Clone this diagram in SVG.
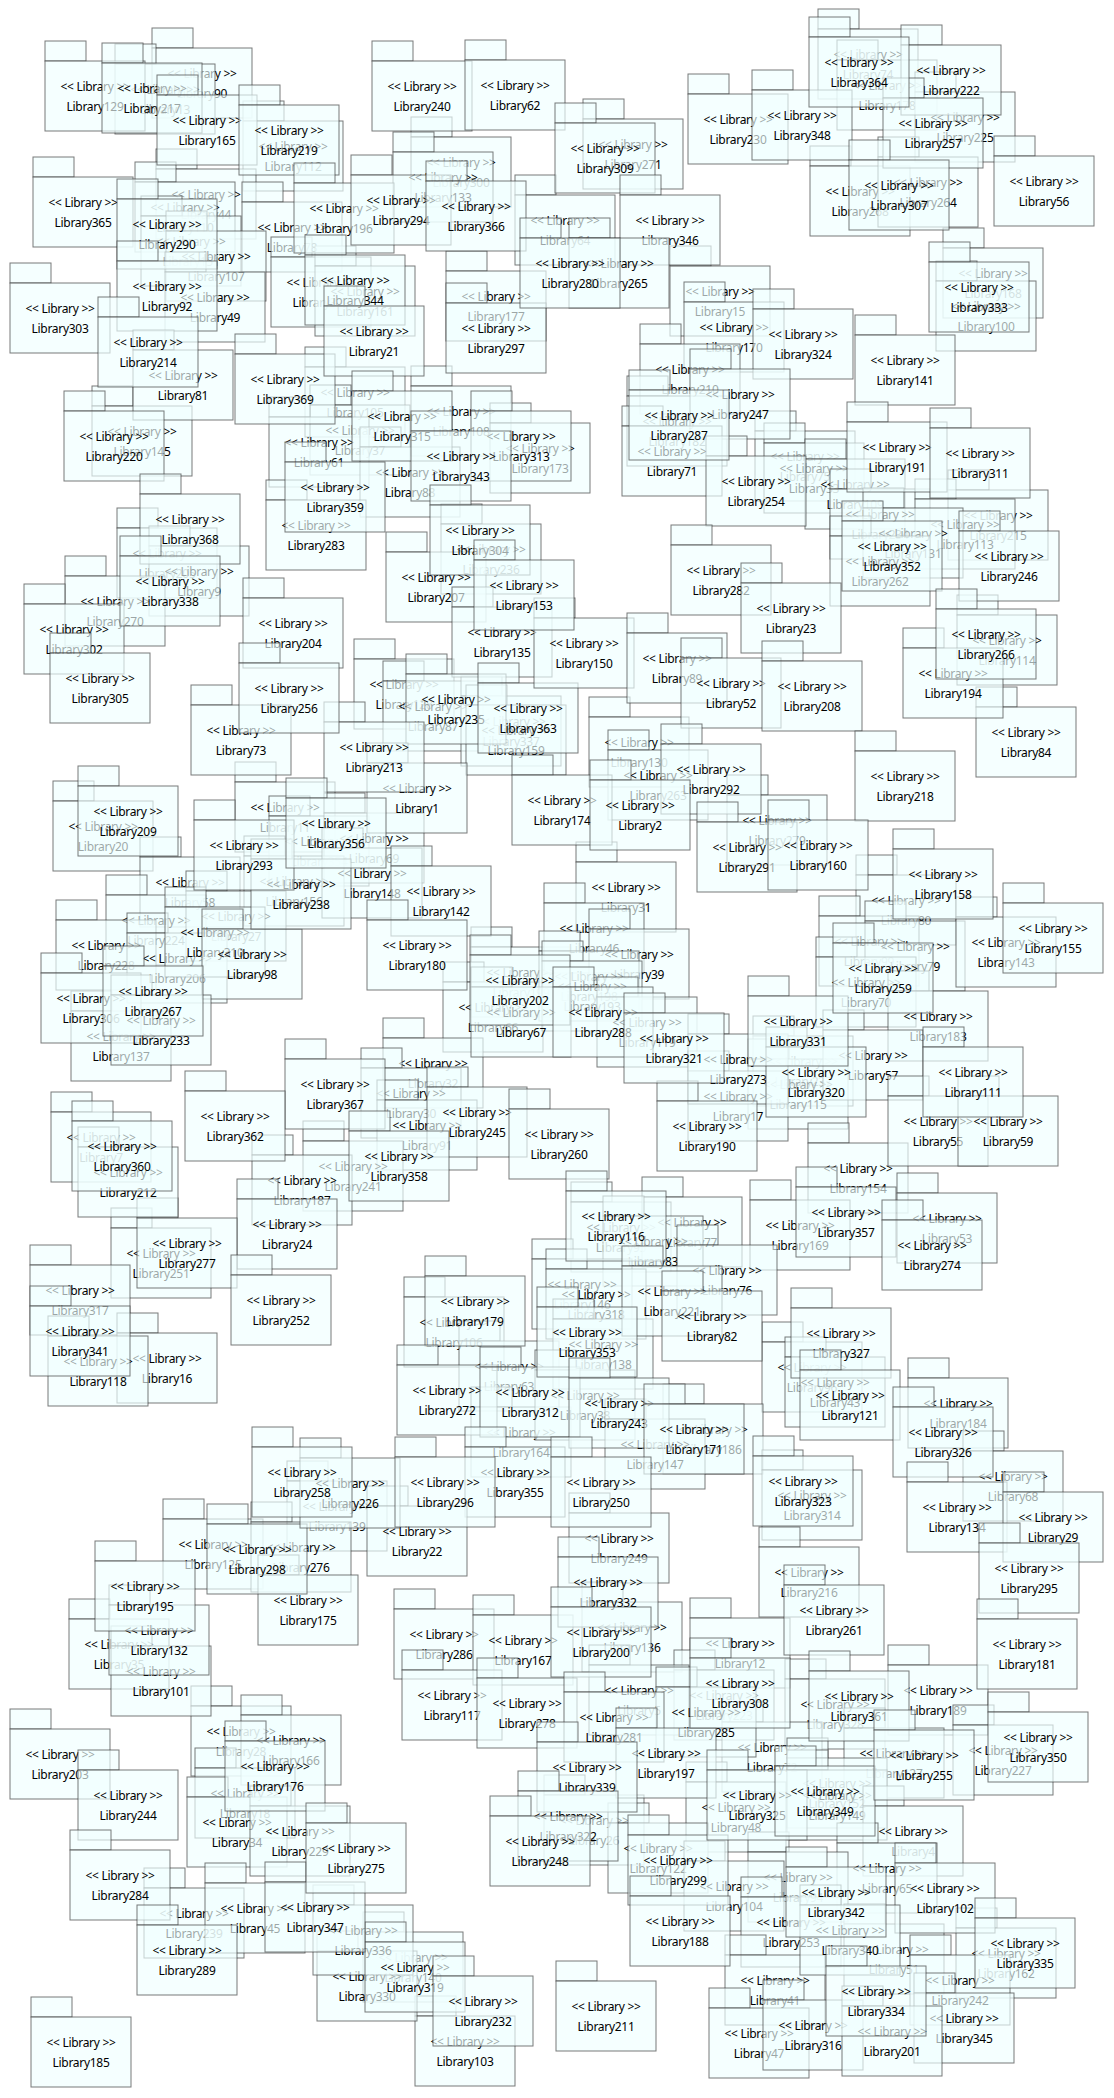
<svg xmlns="http://www.w3.org/2000/svg" width="1114" height="2098" viewBox="0 0 1114 2098">
<style>
text{font-family:"Noto Sans","Open Sans","DejaVu Sans",sans-serif;font-size:12px;letter-spacing:-0.3px;text-anchor:middle;fill:#000}
</style>
<defs>
<g id="pk">
<rect x="-50" y="-66" width="41" height="20" fill="#f0ffff" fill-opacity="0.65" stroke="#333" stroke-opacity="0.65"/>
<rect x="-50" y="-46" width="100" height="70" fill="#f0ffff" fill-opacity="0.65" stroke="#333" stroke-opacity="0.65"/>
</g>
</defs>
<rect width="1114" height="2098" fill="#fff"/>
<g id="connectors"/>
<g id="nodes">
<g id="Library90" transform="translate(202,94)"><use href="#pk"/><text y="-16">&lt;&lt; Library &gt;&gt;</text><text y="4">Library90</text></g>
<g id="Library13" transform="translate(165,110)"><use href="#pk"/><text y="-16">&lt;&lt; Library &gt;&gt;</text><text y="4">Library13</text></g>
<g id="Library112" transform="translate(293,167)"><use href="#pk"/><text y="-16">&lt;&lt; Library &gt;&gt;</text><text y="4">Library112</text></g>
<g id="Library44" transform="translate(206,215)"><use href="#pk"/><text y="-16">&lt;&lt; Library &gt;&gt;</text><text y="4">Library44</text></g>
<g id="Library78" transform="translate(292,248)"><use href="#pk"/><text y="-16">&lt;&lt; Library &gt;&gt;</text><text y="4">Library78</text></g>
<g id="Library300" transform="translate(461,183)"><use href="#pk"/><text y="-16">&lt;&lt; Library &gt;&gt;</text><text y="4">Library300</text></g>
<g id="Library133" transform="translate(443,198)"><use href="#pk"/><text y="-16">&lt;&lt; Library &gt;&gt;</text><text y="4">Library133</text></g>
<g id="Library110" transform="translate(185,228)"><use href="#pk"/><text y="-16">&lt;&lt; Library &gt;&gt;</text><text y="4">Library110</text></g>
<g id="Library151" transform="translate(191,262)"><use href="#pk"/><text y="-16">&lt;&lt; Library &gt;&gt;</text><text y="4">Library151</text></g>
<g id="Library107" transform="translate(216,277)"><use href="#pk"/><text y="-16">&lt;&lt; Library &gt;&gt;</text><text y="4">Library107</text></g>
<g id="Library49" transform="translate(215,318)"><use href="#pk"/><text y="-16">&lt;&lt; Library &gt;&gt;</text><text y="4">Library49</text></g>
<g id="Library329" transform="translate(321,303)"><use href="#pk"/><text y="-16">&lt;&lt; Library &gt;&gt;</text><text y="4">Library329</text></g>
<g id="Library161" transform="translate(365,312)"><use href="#pk"/><text y="-16">&lt;&lt; Library &gt;&gt;</text><text y="4">Library161</text></g>
<g id="Library177" transform="translate(496,317)"><use href="#pk"/><text y="-16">&lt;&lt; Library &gt;&gt;</text><text y="4">Library177</text></g>
<g id="Library105" transform="translate(355,413)"><use href="#pk"/><text y="-16">&lt;&lt; Library &gt;&gt;</text><text y="4">Library105</text></g>
<g id="Library37" transform="translate(360,451)"><use href="#pk"/><text y="-16">&lt;&lt; Library &gt;&gt;</text><text y="4">Library37</text></g>
<g id="Library61" transform="translate(319,463)"><use href="#pk"/><text y="-16">&lt;&lt; Library &gt;&gt;</text><text y="4">Library61</text></g>
<g id="Library108" transform="translate(461,432)"><use href="#pk"/><text y="-16">&lt;&lt; Library &gt;&gt;</text><text y="4">Library108</text></g>
<g id="Library88" transform="translate(410,493)"><use href="#pk"/><text y="-16">&lt;&lt; Library &gt;&gt;</text><text y="4">Library88</text></g>
<g id="Library145" transform="translate(142,452)"><use href="#pk"/><text y="-16">&lt;&lt; Library &gt;&gt;</text><text y="4">Library145</text></g>
<g id="Library173" transform="translate(540,469)"><use href="#pk"/><text y="-16">&lt;&lt; Library &gt;&gt;</text><text y="4">Library173</text></g>
<g id="Library271" transform="translate(633,165)"><use href="#pk"/><text y="-16">&lt;&lt; Library &gt;&gt;</text><text y="4">Library271</text></g>
<g id="Library74" transform="translate(868,75)"><use href="#pk"/><text y="-16">&lt;&lt; Library &gt;&gt;</text><text y="4">Library74</text></g>
<g id="Library178" transform="translate(887,106)"><use href="#pk"/><text y="-16">&lt;&lt; Library &gt;&gt;</text><text y="4">Library178</text></g>
<g id="Library225" transform="translate(965,138)"><use href="#pk"/><text y="-16">&lt;&lt; Library &gt;&gt;</text><text y="4">Library225</text></g>
<g id="Library268" transform="translate(860,212)"><use href="#pk"/><text y="-16">&lt;&lt; Library &gt;&gt;</text><text y="4">Library268</text></g>
<g id="Library264" transform="translate(928,203)"><use href="#pk"/><text y="-16">&lt;&lt; Library &gt;&gt;</text><text y="4">Library264</text></g>
<g id="Library64" transform="translate(565,241)"><use href="#pk"/><text y="-16">&lt;&lt; Library &gt;&gt;</text><text y="4">Library64</text></g>
<g id="Library15" transform="translate(720,312)"><use href="#pk"/><text y="-16">&lt;&lt; Library &gt;&gt;</text><text y="4">Library15</text></g>
<g id="Library170" transform="translate(734,348)"><use href="#pk"/><text y="-16">&lt;&lt; Library &gt;&gt;</text><text y="4">Library170</text></g>
<g id="Library168" transform="translate(993,294)"><use href="#pk"/><text y="-16">&lt;&lt; Library &gt;&gt;</text><text y="4">Library168</text></g>
<g id="Library100" transform="translate(986,327)"><use href="#pk"/><text y="-16">&lt;&lt; Library &gt;&gt;</text><text y="4">Library100</text></g>
<g id="Library210" transform="translate(690,390)"><use href="#pk"/><text y="-16">&lt;&lt; Library &gt;&gt;</text><text y="4">Library210</text></g>
<g id="Library182" transform="translate(677,442)"><use href="#pk"/><text y="-16">&lt;&lt; Library &gt;&gt;</text><text y="4">Library182</text></g>
<g id="Library75" transform="translate(805,477)"><use href="#pk"/><text y="-16">&lt;&lt; Library &gt;&gt;</text><text y="4">Library75</text></g>
<g id="Library33" transform="translate(814,489)"><use href="#pk"/><text y="-16">&lt;&lt; Library &gt;&gt;</text><text y="4">Library33</text></g>
<g id="Library109" transform="translate(855,505)"><use href="#pk"/><text y="-16">&lt;&lt; Library &gt;&gt;</text><text y="4">Library109</text></g>
<g id="Library236" transform="translate(491,570)"><use href="#pk"/><text y="-16">&lt;&lt; Library &gt;&gt;</text><text y="4">Library236</text></g>
<g id="Library205" transform="translate(167,574)"><use href="#pk"/><text y="-16">&lt;&lt; Library &gt;&gt;</text><text y="4">Library205</text></g>
<g id="Library9" transform="translate(199,592)"><use href="#pk"/><text y="-16">&lt;&lt; Library &gt;&gt;</text><text y="4">Library9</text></g>
<g id="Library270" transform="translate(115,622)"><use href="#pk"/><text y="-16">&lt;&lt; Library &gt;&gt;</text><text y="4">Library270</text></g>
<g id="Library302" transform="translate(74,650)"><use href="#pk"/><text y="-16">&lt;&lt; Library &gt;&gt;</text><text y="4">Library302</text></g>
<g id="Library128" transform="translate(404,705)"><use href="#pk"/><text y="-16">&lt;&lt; Library &gt;&gt;</text><text y="4">Library128</text></g>
<g id="Library87" transform="translate(433,727)"><use href="#pk"/><text y="-16">&lt;&lt; Library &gt;&gt;</text><text y="4">Library87</text></g>
<g id="Library337" transform="translate(511,742)"><use href="#pk"/><text y="-16">&lt;&lt; Library &gt;&gt;</text><text y="4">Library337</text></g>
<g id="Library159" transform="translate(516,751)"><use href="#pk"/><text y="-16">&lt;&lt; Library &gt;&gt;</text><text y="4">Library159</text></g>
<g id="Library20" transform="translate(103,847)"><use href="#pk"/><text y="-16">&lt;&lt; Library &gt;&gt;</text><text y="4">Library20</text></g>
<g id="Library11" transform="translate(285,828)"><use href="#pk"/><text y="-16">&lt;&lt; Library &gt;&gt;</text><text y="4">Library11</text></g>
<g id="Library354" transform="translate(319,862)"><use href="#pk"/><text y="-16">&lt;&lt; Library &gt;&gt;</text><text y="4">Library354</text></g>
<g id="Library69" transform="translate(374,859)"><use href="#pk"/><text y="-16">&lt;&lt; Library &gt;&gt;</text><text y="4">Library69</text></g>
<g id="Library156" transform="translate(294,902)"><use href="#pk"/><text y="-16">&lt;&lt; Library &gt;&gt;</text><text y="4">Library156</text></g>
<g id="Library58" transform="translate(190,903)"><use href="#pk"/><text y="-16">&lt;&lt; Library &gt;&gt;</text><text y="4">Library58</text></g>
<g id="Library224" transform="translate(156,941)"><use href="#pk"/><text y="-16">&lt;&lt; Library &gt;&gt;</text><text y="4">Library224</text></g>
<g id="Library27" transform="translate(236,937)"><use href="#pk"/><text y="-16">&lt;&lt; Library &gt;&gt;</text><text y="4">Library27</text></g>
<g id="Library228" transform="translate(106,966)"><use href="#pk"/><text y="-16">&lt;&lt; Library &gt;&gt;</text><text y="4">Library228</text></g>
<g id="Library206" transform="translate(177,979)"><use href="#pk"/><text y="-16">&lt;&lt; Library &gt;&gt;</text><text y="4">Library206</text></g>
<g id="Library199" transform="translate(521,993)"><use href="#pk"/><text y="-16">&lt;&lt; Library &gt;&gt;</text><text y="4">Library199</text></g>
<g id="Library66" transform="translate(493,1028)"><use href="#pk"/><text y="-16">&lt;&lt; Library &gt;&gt;</text><text y="4">Library66</text></g>
<g id="Library234" transform="translate(880,535)"><use href="#pk"/><text y="-16">&lt;&lt; Library &gt;&gt;</text><text y="4">Library234</text></g>
<g id="Library215" transform="translate(998,536)"><use href="#pk"/><text y="-16">&lt;&lt; Library &gt;&gt;</text><text y="4">Library215</text></g>
<g id="Library113" transform="translate(965,545)"><use href="#pk"/><text y="-16">&lt;&lt; Library &gt;&gt;</text><text y="4">Library113</text></g>
<g id="Library131" transform="translate(913,554)"><use href="#pk"/><text y="-16">&lt;&lt; Library &gt;&gt;</text><text y="4">Library131</text></g>
<g id="Library262" transform="translate(880,582)"><use href="#pk"/><text y="-16">&lt;&lt; Library &gt;&gt;</text><text y="4">Library262</text></g>
<g id="Library114" transform="translate(1007,661)"><use href="#pk"/><text y="-16">&lt;&lt; Library &gt;&gt;</text><text y="4">Library114</text></g>
<g id="Library130" transform="translate(639,763)"><use href="#pk"/><text y="-16">&lt;&lt; Library &gt;&gt;</text><text y="4">Library130</text></g>
<g id="Library263" transform="translate(658,796)"><use href="#pk"/><text y="-16">&lt;&lt; Library &gt;&gt;</text><text y="4">Library263</text></g>
<g id="Library279" transform="translate(777,841)"><use href="#pk"/><text y="-16">&lt;&lt; Library &gt;&gt;</text><text y="4">Library279</text></g>
<g id="Library31" transform="translate(626,908)"><use href="#pk"/><text y="-16">&lt;&lt; Library &gt;&gt;</text><text y="4">Library31</text></g>
<g id="Library80" transform="translate(906,921)"><use href="#pk"/><text y="-16">&lt;&lt; Library &gt;&gt;</text><text y="4">Library80</text></g>
<g id="Library99" transform="translate(869,962)"><use href="#pk"/><text y="-16">&lt;&lt; Library &gt;&gt;</text><text y="4">Library99</text></g>
<g id="Library79" transform="translate(915,967)"><use href="#pk"/><text y="-16">&lt;&lt; Library &gt;&gt;</text><text y="4">Library79</text></g>
<g id="Library70" transform="translate(866,1003)"><use href="#pk"/><text y="-16">&lt;&lt; Library &gt;&gt;</text><text y="4">Library70</text></g>
<g id="Library143" transform="translate(1006,963)"><use href="#pk"/><text y="-16">&lt;&lt; Library &gt;&gt;</text><text y="4">Library143</text></g>
<g id="Library46" transform="translate(594,949)"><use href="#pk"/><text y="-16">&lt;&lt; Library &gt;&gt;</text><text y="4">Library46</text></g>
<g id="Library39" transform="translate(639,975)"><use href="#pk"/><text y="-16">&lt;&lt; Library &gt;&gt;</text><text y="4">Library39</text></g>
<g id="Library198" transform="translate(589,997)"><use href="#pk"/><text y="-16">&lt;&lt; Library &gt;&gt;</text><text y="4">Library198</text></g>
<g id="Library193" transform="translate(592,1007)"><use href="#pk"/><text y="-16">&lt;&lt; Library &gt;&gt;</text><text y="4">Library193</text></g>
<g id="Library119" transform="translate(647,1043)"><use href="#pk"/><text y="-16">&lt;&lt; Library &gt;&gt;</text><text y="4">Library119</text></g>
<g id="Library137" transform="translate(121,1057)"><use href="#pk"/><text y="-16">&lt;&lt; Library &gt;&gt;</text><text y="4">Library137</text></g>
<g id="Library32" transform="translate(433,1084)"><use href="#pk"/><text y="-16">&lt;&lt; Library &gt;&gt;</text><text y="4">Library32</text></g>
<g id="Library30" transform="translate(411,1114)"><use href="#pk"/><text y="-16">&lt;&lt; Library &gt;&gt;</text><text y="4">Library30</text></g>
<g id="Library91" transform="translate(427,1146)"><use href="#pk"/><text y="-16">&lt;&lt; Library &gt;&gt;</text><text y="4">Library91</text></g>
<g id="Library7" transform="translate(101,1158)"><use href="#pk"/><text y="-16">&lt;&lt; Library &gt;&gt;</text><text y="4">Library7</text></g>
<g id="Library241" transform="translate(353,1187)"><use href="#pk"/><text y="-16">&lt;&lt; Library &gt;&gt;</text><text y="4">Library241</text></g>
<g id="Library187" transform="translate(302,1201)"><use href="#pk"/><text y="-16">&lt;&lt; Library &gt;&gt;</text><text y="4">Library187</text></g>
<g id="Library251" transform="translate(161,1274)"><use href="#pk"/><text y="-16">&lt;&lt; Library &gt;&gt;</text><text y="4">Library251</text></g>
<g id="Library317" transform="translate(80,1311)"><use href="#pk"/><text y="-16">&lt;&lt; Library &gt;&gt;</text><text y="4">Library317</text></g>
<g id="Library106" transform="translate(454,1343)"><use href="#pk"/><text y="-16">&lt;&lt; Library &gt;&gt;</text><text y="4">Library106</text></g>
<g id="Library63" transform="translate(509,1387)"><use href="#pk"/><text y="-16">&lt;&lt; Library &gt;&gt;</text><text y="4">Library63</text></g>
<g id="Library164" transform="translate(521,1453)"><use href="#pk"/><text y="-16">&lt;&lt; Library &gt;&gt;</text><text y="4">Library164</text></g>
<g id="Library139" transform="translate(337,1527)"><use href="#pk"/><text y="-16">&lt;&lt; Library &gt;&gt;</text><text y="4">Library139</text></g>
<g id="Library125" transform="translate(213,1565)"><use href="#pk"/><text y="-16">&lt;&lt; Library &gt;&gt;</text><text y="4">Library125</text></g>
<g id="Library276" transform="translate(301,1568)"><use href="#pk"/><text y="-16">&lt;&lt; Library &gt;&gt;</text><text y="4">Library276</text></g>
<g id="Library237" transform="translate(803,1082)"><use href="#pk"/><text y="-16">&lt;&lt; Library &gt;&gt;</text><text y="4">Library237</text></g>
<g id="Library115" transform="translate(798,1105)"><use href="#pk"/><text y="-16">&lt;&lt; Library &gt;&gt;</text><text y="4">Library115</text></g>
<g id="Library17" transform="translate(738,1117)"><use href="#pk"/><text y="-16">&lt;&lt; Library &gt;&gt;</text><text y="4">Library17</text></g>
<g id="Library154" transform="translate(858,1189)"><use href="#pk"/><text y="-16">&lt;&lt; Library &gt;&gt;</text><text y="4">Library154</text></g>
<g id="Library169" transform="translate(800,1246)"><use href="#pk"/><text y="-16">&lt;&lt; Library &gt;&gt;</text><text y="4">Library169</text></g>
<g id="Library53" transform="translate(947,1239)"><use href="#pk"/><text y="-16">&lt;&lt; Library &gt;&gt;</text><text y="4">Library53</text></g>
<g id="Library95" transform="translate(621,1248)"><use href="#pk"/><text y="-16">&lt;&lt; Library &gt;&gt;</text><text y="4">Library95</text></g>
<g id="Library77" transform="translate(692,1243)"><use href="#pk"/><text y="-16">&lt;&lt; Library &gt;&gt;</text><text y="4">Library77</text></g>
<g id="Library83" transform="translate(653,1262)"><use href="#pk"/><text y="-16">&lt;&lt; Library &gt;&gt;</text><text y="4">Library83</text></g>
<g id="Library76" transform="translate(727,1291)"><use href="#pk"/><text y="-16">&lt;&lt; Library &gt;&gt;</text><text y="4">Library76</text></g>
<g id="Library146" transform="translate(582,1305)"><use href="#pk"/><text y="-16">&lt;&lt; Library &gt;&gt;</text><text y="4">Library146</text></g>
<g id="Library318" transform="translate(596,1315)"><use href="#pk"/><text y="-16">&lt;&lt; Library &gt;&gt;</text><text y="4">Library318</text></g>
<g id="Library138" transform="translate(603,1365)"><use href="#pk"/><text y="-16">&lt;&lt; Library &gt;&gt;</text><text y="4">Library138</text></g>
<g id="Library96" transform="translate(812,1388)"><use href="#pk"/><text y="-16">&lt;&lt; Library &gt;&gt;</text><text y="4">Library96</text></g>
<g id="Library43" transform="translate(835,1403)"><use href="#pk"/><text y="-16">&lt;&lt; Library &gt;&gt;</text><text y="4">Library43</text></g>
<g id="Library184" transform="translate(958,1424)"><use href="#pk"/><text y="-16">&lt;&lt; Library &gt;&gt;</text><text y="4">Library184</text></g>
<g id="Library38" transform="translate(585,1416)"><use href="#pk"/><text y="-16">&lt;&lt; Library &gt;&gt;</text><text y="4">Library38</text></g>
<g id="Library186" transform="translate(713,1450)"><use href="#pk"/><text y="-16">&lt;&lt; Library &gt;&gt;</text><text y="4">Library186</text></g>
<g id="Library147" transform="translate(655,1465)"><use href="#pk"/><text y="-16">&lt;&lt; Library &gt;&gt;</text><text y="4">Library147</text></g>
<g id="Library314" transform="translate(812,1516)"><use href="#pk"/><text y="-16">&lt;&lt; Library &gt;&gt;</text><text y="4">Library314</text></g>
<g id="Library68" transform="translate(1013,1497)"><use href="#pk"/><text y="-16">&lt;&lt; Library &gt;&gt;</text><text y="4">Library68</text></g>
<g id="Library249" transform="translate(619,1559)"><use href="#pk"/><text y="-16">&lt;&lt; Library &gt;&gt;</text><text y="4">Library249</text></g>
<g id="Library35" transform="translate(119,1665)"><use href="#pk"/><text y="-16">&lt;&lt; Library &gt;&gt;</text><text y="4">Library35</text></g>
<g id="Library28" transform="translate(241,1752)"><use href="#pk"/><text y="-16">&lt;&lt; Library &gt;&gt;</text><text y="4">Library28</text></g>
<g id="Library166" transform="translate(291,1761)"><use href="#pk"/><text y="-16">&lt;&lt; Library &gt;&gt;</text><text y="4">Library166</text></g>
<g id="Library18" transform="translate(245,1814)"><use href="#pk"/><text y="-16">&lt;&lt; Library &gt;&gt;</text><text y="4">Library18</text></g>
<g id="Library34" transform="translate(237,1843)"><use href="#pk"/><text y="-16">&lt;&lt; Library &gt;&gt;</text><text y="4">Library34</text></g>
<g id="Library229" transform="translate(300,1852)"><use href="#pk"/><text y="-16">&lt;&lt; Library &gt;&gt;</text><text y="4">Library229</text></g>
<g id="Library239" transform="translate(194,1934)"><use href="#pk"/><text y="-16">&lt;&lt; Library &gt;&gt;</text><text y="4">Library239</text></g>
<g id="Library45" transform="translate(255,1929)"><use href="#pk"/><text y="-16">&lt;&lt; Library &gt;&gt;</text><text y="4">Library45</text></g>
<g id="Library140" transform="translate(413,1978)"><use href="#pk"/><text y="-16">&lt;&lt; Library &gt;&gt;</text><text y="4">Library140</text></g>
<g id="Library216" transform="translate(809,1593)"><use href="#pk"/><text y="-16">&lt;&lt; Library &gt;&gt;</text><text y="4">Library216</text></g>
<g id="Library136" transform="translate(632,1648)"><use href="#pk"/><text y="-16">&lt;&lt; Library &gt;&gt;</text><text y="4">Library136</text></g>
<g id="Library12" transform="translate(740,1664)"><use href="#pk"/><text y="-16">&lt;&lt; Library &gt;&gt;</text><text y="4">Library12</text></g>
<g id="Library223" transform="translate(724,1716)"><use href="#pk"/><text y="-16">&lt;&lt; Library &gt;&gt;</text><text y="4">Library223</text></g>
<g id="Library5" transform="translate(639,1711)"><use href="#pk"/><text y="-16">&lt;&lt; Library &gt;&gt;</text><text y="4">Library5</text></g>
<g id="Library328" transform="translate(835,1725)"><use href="#pk"/><text y="-16">&lt;&lt; Library &gt;&gt;</text><text y="4">Library328</text></g>
<g id="Library189" transform="translate(938,1711)"><use href="#pk"/><text y="-16">&lt;&lt; Library &gt;&gt;</text><text y="4">Library189</text></g>
<g id="Library227" transform="translate(1003,1771)"><use href="#pk"/><text y="-16">&lt;&lt; Library &gt;&gt;</text><text y="4">Library227</text></g>
<g id="Library127" transform="translate(894,1774)"><use href="#pk"/><text y="-16">&lt;&lt; Library &gt;&gt;</text><text y="4">Library127</text></g>
<g id="Library72" transform="translate(772,1768)"><use href="#pk"/><text y="-16">&lt;&lt; Library &gt;&gt;</text><text y="4">Library72</text></g>
<g id="Library152" transform="translate(837,1804)"><use href="#pk"/><text y="-16">&lt;&lt; Library &gt;&gt;</text><text y="4">Library152</text></g>
<g id="Library149" transform="translate(837,1816)"><use href="#pk"/><text y="-16">&lt;&lt; Library &gt;&gt;</text><text y="4">Library149</text></g>
<g id="Library48" transform="translate(736,1828)"><use href="#pk"/><text y="-16">&lt;&lt; Library &gt;&gt;</text><text y="4">Library48</text></g>
<g id="Library26" transform="translate(594,1841)"><use href="#pk"/><text y="-16">&lt;&lt; Library &gt;&gt;</text><text y="4">Library26</text></g>
<g id="Library122" transform="translate(658,1869)"><use href="#pk"/><text y="-16">&lt;&lt; Library &gt;&gt;</text><text y="4">Library122</text></g>
<g id="Library4" transform="translate(913,1852)"><use href="#pk"/><text y="-16">&lt;&lt; Library &gt;&gt;</text><text y="4">Library4</text></g>
<g id="Library65" transform="translate(887,1889)"><use href="#pk"/><text y="-16">&lt;&lt; Library &gt;&gt;</text><text y="4">Library65</text></g>
<g id="Library94" transform="translate(798,1898)"><use href="#pk"/><text y="-16">&lt;&lt; Library &gt;&gt;</text><text y="4">Library94</text></g>
<g id="Library104" transform="translate(734,1907)"><use href="#pk"/><text y="-16">&lt;&lt; Library &gt;&gt;</text><text y="4">Library104</text></g>
<g id="Library253" transform="translate(791,1943)"><use href="#pk"/><text y="-16">&lt;&lt; Library &gt;&gt;</text><text y="4">Library253</text></g>
<g id="Library51" transform="translate(894,1970)"><use href="#pk"/><text y="-16">&lt;&lt; Library &gt;&gt;</text><text y="4">Library51</text></g>
<g id="Library162" transform="translate(1006,1974)"><use href="#pk"/><text y="-16">&lt;&lt; Library &gt;&gt;</text><text y="4">Library162</text></g>
<g id="Library41" transform="translate(775,2001)"><use href="#pk"/><text y="-16">&lt;&lt; Library &gt;&gt;</text><text y="4">Library41</text></g>
<g id="Library242" transform="translate(960,2001)"><use href="#pk"/><text y="-16">&lt;&lt; Library &gt;&gt;</text><text y="4">Library242</text></g>
<g id="Library129" transform="translate(95,107)"><use href="#pk"/><text y="-16">&lt;&lt; Library &gt;&gt;</text><text y="4">Library129</text></g>
<g id="Library217" transform="translate(152,109)"><use href="#pk"/><text y="-16">&lt;&lt; Library &gt;&gt;</text><text y="4">Library217</text></g>
<g id="Library165" transform="translate(207,141)"><use href="#pk"/><text y="-16">&lt;&lt; Library &gt;&gt;</text><text y="4">Library165</text></g>
<g id="Library219" transform="translate(289,151)"><use href="#pk"/><text y="-16">&lt;&lt; Library &gt;&gt;</text><text y="4">Library219</text></g>
<g id="Library240" transform="translate(422,107)"><use href="#pk"/><text y="-16">&lt;&lt; Library &gt;&gt;</text><text y="4">Library240</text></g>
<g id="Library62" transform="translate(515,106)"><use href="#pk"/><text y="-16">&lt;&lt; Library &gt;&gt;</text><text y="4">Library62</text></g>
<g id="Library365" transform="translate(83,223)"><use href="#pk"/><text y="-16">&lt;&lt; Library &gt;&gt;</text><text y="4">Library365</text></g>
<g id="Library290" transform="translate(167,245)"><use href="#pk"/><text y="-16">&lt;&lt; Library &gt;&gt;</text><text y="4">Library290</text></g>
<g id="Library196" transform="translate(344,229)"><use href="#pk"/><text y="-16">&lt;&lt; Library &gt;&gt;</text><text y="4">Library196</text></g>
<g id="Library294" transform="translate(401,221)"><use href="#pk"/><text y="-16">&lt;&lt; Library &gt;&gt;</text><text y="4">Library294</text></g>
<g id="Library366" transform="translate(476,227)"><use href="#pk"/><text y="-16">&lt;&lt; Library &gt;&gt;</text><text y="4">Library366</text></g>
<g id="Library92" transform="translate(167,307)"><use href="#pk"/><text y="-16">&lt;&lt; Library &gt;&gt;</text><text y="4">Library92</text></g>
<g id="Library303" transform="translate(60,329)"><use href="#pk"/><text y="-16">&lt;&lt; Library &gt;&gt;</text><text y="4">Library303</text></g>
<g id="Library81" transform="translate(183,396)"><use href="#pk"/><text y="-16">&lt;&lt; Library &gt;&gt;</text><text y="4">Library81</text></g>
<g id="Library369" transform="translate(285,400)"><use href="#pk"/><text y="-16">&lt;&lt; Library &gt;&gt;</text><text y="4">Library369</text></g>
<g id="Library344" transform="translate(355,301)"><use href="#pk"/><text y="-16">&lt;&lt; Library &gt;&gt;</text><text y="4">Library344</text></g>
<g id="Library21" transform="translate(374,352)"><use href="#pk"/><text y="-16">&lt;&lt; Library &gt;&gt;</text><text y="4">Library21</text></g>
<g id="Library297" transform="translate(496,349)"><use href="#pk"/><text y="-16">&lt;&lt; Library &gt;&gt;</text><text y="4">Library297</text></g>
<g id="Library315" transform="translate(402,437)"><use href="#pk"/><text y="-16">&lt;&lt; Library &gt;&gt;</text><text y="4">Library315</text></g>
<g id="Library313" transform="translate(521,457)"><use href="#pk"/><text y="-16">&lt;&lt; Library &gt;&gt;</text><text y="4">Library313</text></g>
<g id="Library343" transform="translate(461,477)"><use href="#pk"/><text y="-16">&lt;&lt; Library &gt;&gt;</text><text y="4">Library343</text></g>
<g id="Library220" transform="translate(114,457)"><use href="#pk"/><text y="-16">&lt;&lt; Library &gt;&gt;</text><text y="4">Library220</text></g>
<g id="Library309" transform="translate(605,169)"><use href="#pk"/><text y="-16">&lt;&lt; Library &gt;&gt;</text><text y="4">Library309</text></g>
<g id="Library230" transform="translate(738,140)"><use href="#pk"/><text y="-16">&lt;&lt; Library &gt;&gt;</text><text y="4">Library230</text></g>
<g id="Library348" transform="translate(802,136)"><use href="#pk"/><text y="-16">&lt;&lt; Library &gt;&gt;</text><text y="4">Library348</text></g>
<g id="Library222" transform="translate(951,91)"><use href="#pk"/><text y="-16">&lt;&lt; Library &gt;&gt;</text><text y="4">Library222</text></g>
<g id="Library257" transform="translate(933,144)"><use href="#pk"/><text y="-16">&lt;&lt; Library &gt;&gt;</text><text y="4">Library257</text></g>
<g id="Library307" transform="translate(899,206)"><use href="#pk"/><text y="-16">&lt;&lt; Library &gt;&gt;</text><text y="4">Library307</text></g>
<g id="Library56" transform="translate(1044,202)"><use href="#pk"/><text y="-16">&lt;&lt; Library &gt;&gt;</text><text y="4">Library56</text></g>
<g id="Library346" transform="translate(670,241)"><use href="#pk"/><text y="-16">&lt;&lt; Library &gt;&gt;</text><text y="4">Library346</text></g>
<g id="Library265" transform="translate(619,284)"><use href="#pk"/><text y="-16">&lt;&lt; Library &gt;&gt;</text><text y="4">Library265</text></g>
<g id="Library324" transform="translate(803,355)"><use href="#pk"/><text y="-16">&lt;&lt; Library &gt;&gt;</text><text y="4">Library324</text></g>
<g id="Library141" transform="translate(905,381)"><use href="#pk"/><text y="-16">&lt;&lt; Library &gt;&gt;</text><text y="4">Library141</text></g>
<g id="Library333" transform="translate(979,308)"><use href="#pk"/><text y="-16">&lt;&lt; Library &gt;&gt;</text><text y="4">Library333</text></g>
<g id="Library247" transform="translate(740,415)"><use href="#pk"/><text y="-16">&lt;&lt; Library &gt;&gt;</text><text y="4">Library247</text></g>
<g id="Library71" transform="translate(672,472)"><use href="#pk"/><text y="-16">&lt;&lt; Library &gt;&gt;</text><text y="4">Library71</text></g>
<g id="Library254" transform="translate(756,502)"><use href="#pk"/><text y="-16">&lt;&lt; Library &gt;&gt;</text><text y="4">Library254</text></g>
<g id="Library191" transform="translate(897,468)"><use href="#pk"/><text y="-16">&lt;&lt; Library &gt;&gt;</text><text y="4">Library191</text></g>
<g id="Library311" transform="translate(980,474)"><use href="#pk"/><text y="-16">&lt;&lt; Library &gt;&gt;</text><text y="4">Library311</text></g>
<g id="Library368" transform="translate(190,540)"><use href="#pk"/><text y="-16">&lt;&lt; Library &gt;&gt;</text><text y="4">Library368</text></g>
<g id="Library283" transform="translate(316,546)"><use href="#pk"/><text y="-16">&lt;&lt; Library &gt;&gt;</text><text y="4">Library283</text></g>
<g id="Library207" transform="translate(436,598)"><use href="#pk"/><text y="-16">&lt;&lt; Library &gt;&gt;</text><text y="4">Library207</text></g>
<g id="Library338" transform="translate(170,602)"><use href="#pk"/><text y="-16">&lt;&lt; Library &gt;&gt;</text><text y="4">Library338</text></g>
<g id="Library305" transform="translate(100,699)"><use href="#pk"/><text y="-16">&lt;&lt; Library &gt;&gt;</text><text y="4">Library305</text></g>
<g id="Library204" transform="translate(293,644)"><use href="#pk"/><text y="-16">&lt;&lt; Library &gt;&gt;</text><text y="4">Library204</text></g>
<g id="Library135" transform="translate(502,653)"><use href="#pk"/><text y="-16">&lt;&lt; Library &gt;&gt;</text><text y="4">Library135</text></g>
<g id="Library73" transform="translate(241,751)"><use href="#pk"/><text y="-16">&lt;&lt; Library &gt;&gt;</text><text y="4">Library73</text></g>
<g id="Library235" transform="translate(456,720)"><use href="#pk"/><text y="-16">&lt;&lt; Library &gt;&gt;</text><text y="4">Library235</text></g>
<g id="Library363" transform="translate(528,729)"><use href="#pk"/><text y="-16">&lt;&lt; Library &gt;&gt;</text><text y="4">Library363</text></g>
<g id="Library1" transform="translate(417,809)"><use href="#pk"/><text y="-16">&lt;&lt; Library &gt;&gt;</text><text y="4">Library1</text></g>
<g id="Library174" transform="translate(562,821)"><use href="#pk"/><text y="-16">&lt;&lt; Library &gt;&gt;</text><text y="4">Library174</text></g>
<g id="Library209" transform="translate(128,832)"><use href="#pk"/><text y="-16">&lt;&lt; Library &gt;&gt;</text><text y="4">Library209</text></g>
<g id="Library148" transform="translate(372,894)"><use href="#pk"/><text y="-16">&lt;&lt; Library &gt;&gt;</text><text y="4">Library148</text></g>
<g id="Library142" transform="translate(441,912)"><use href="#pk"/><text y="-16">&lt;&lt; Library &gt;&gt;</text><text y="4">Library142</text></g>
<g id="Library310" transform="translate(215,953)"><use href="#pk"/><text y="-16">&lt;&lt; Library &gt;&gt;</text><text y="4">Library310</text></g>
<g id="Library98" transform="translate(252,975)"><use href="#pk"/><text y="-16">&lt;&lt; Library &gt;&gt;</text><text y="4">Library98</text></g>
<g id="Library180" transform="translate(417,966)"><use href="#pk"/><text y="-16">&lt;&lt; Library &gt;&gt;</text><text y="4">Library180</text></g>
<g id="Library352" transform="translate(892,567)"><use href="#pk"/><text y="-16">&lt;&lt; Library &gt;&gt;</text><text y="4">Library352</text></g>
<g id="Library246" transform="translate(1009,577)"><use href="#pk"/><text y="-16">&lt;&lt; Library &gt;&gt;</text><text y="4">Library246</text></g>
<g id="Library282" transform="translate(721,591)"><use href="#pk"/><text y="-16">&lt;&lt; Library &gt;&gt;</text><text y="4">Library282</text></g>
<g id="Library23" transform="translate(791,629)"><use href="#pk"/><text y="-16">&lt;&lt; Library &gt;&gt;</text><text y="4">Library23</text></g>
<g id="Library150" transform="translate(584,664)"><use href="#pk"/><text y="-16">&lt;&lt; Library &gt;&gt;</text><text y="4">Library150</text></g>
<g id="Library89" transform="translate(677,679)"><use href="#pk"/><text y="-16">&lt;&lt; Library &gt;&gt;</text><text y="4">Library89</text></g>
<g id="Library52" transform="translate(731,704)"><use href="#pk"/><text y="-16">&lt;&lt; Library &gt;&gt;</text><text y="4">Library52</text></g>
<g id="Library208" transform="translate(812,707)"><use href="#pk"/><text y="-16">&lt;&lt; Library &gt;&gt;</text><text y="4">Library208</text></g>
<g id="Library292" transform="translate(711,790)"><use href="#pk"/><text y="-16">&lt;&lt; Library &gt;&gt;</text><text y="4">Library292</text></g>
<g id="Library2" transform="translate(640,826)"><use href="#pk"/><text y="-16">&lt;&lt; Library &gt;&gt;</text><text y="4">Library2</text></g>
<g id="Library218" transform="translate(905,797)"><use href="#pk"/><text y="-16">&lt;&lt; Library &gt;&gt;</text><text y="4">Library218</text></g>
<g id="Library291" transform="translate(747,868)"><use href="#pk"/><text y="-16">&lt;&lt; Library &gt;&gt;</text><text y="4">Library291</text></g>
<g id="Library160" transform="translate(818,866)"><use href="#pk"/><text y="-16">&lt;&lt; Library &gt;&gt;</text><text y="4">Library160</text></g>
<g id="Library158" transform="translate(943,895)"><use href="#pk"/><text y="-16">&lt;&lt; Library &gt;&gt;</text><text y="4">Library158</text></g>
<g id="Library155" transform="translate(1053,949)"><use href="#pk"/><text y="-16">&lt;&lt; Library &gt;&gt;</text><text y="4">Library155</text></g>
<g id="Library183" transform="translate(938,1037)"><use href="#pk"/><text y="-16">&lt;&lt; Library &gt;&gt;</text><text y="4">Library183</text></g>
<g id="Library367" transform="translate(335,1105)"><use href="#pk"/><text y="-16">&lt;&lt; Library &gt;&gt;</text><text y="4">Library367</text></g>
<g id="Library245" transform="translate(477,1133)"><use href="#pk"/><text y="-16">&lt;&lt; Library &gt;&gt;</text><text y="4">Library245</text></g>
<g id="Library362" transform="translate(235,1137)"><use href="#pk"/><text y="-16">&lt;&lt; Library &gt;&gt;</text><text y="4">Library362</text></g>
<g id="Library358" transform="translate(399,1177)"><use href="#pk"/><text y="-16">&lt;&lt; Library &gt;&gt;</text><text y="4">Library358</text></g>
<g id="Library24" transform="translate(287,1245)"><use href="#pk"/><text y="-16">&lt;&lt; Library &gt;&gt;</text><text y="4">Library24</text></g>
<g id="Library277" transform="translate(187,1264)"><use href="#pk"/><text y="-16">&lt;&lt; Library &gt;&gt;</text><text y="4">Library277</text></g>
<g id="Library252" transform="translate(281,1321)"><use href="#pk"/><text y="-16">&lt;&lt; Library &gt;&gt;</text><text y="4">Library252</text></g>
<g id="Library16" transform="translate(167,1379)"><use href="#pk"/><text y="-16">&lt;&lt; Library &gt;&gt;</text><text y="4">Library16</text></g>
<g id="Library179" transform="translate(475,1322)"><use href="#pk"/><text y="-16">&lt;&lt; Library &gt;&gt;</text><text y="4">Library179</text></g>
<g id="Library272" transform="translate(447,1411)"><use href="#pk"/><text y="-16">&lt;&lt; Library &gt;&gt;</text><text y="4">Library272</text></g>
<g id="Library312" transform="translate(530,1413)"><use href="#pk"/><text y="-16">&lt;&lt; Library &gt;&gt;</text><text y="4">Library312</text></g>
<g id="Library355" transform="translate(515,1493)"><use href="#pk"/><text y="-16">&lt;&lt; Library &gt;&gt;</text><text y="4">Library355</text></g>
<g id="Library22" transform="translate(417,1552)"><use href="#pk"/><text y="-16">&lt;&lt; Library &gt;&gt;</text><text y="4">Library22</text></g>
<g id="Library57" transform="translate(873,1076)"><use href="#pk"/><text y="-16">&lt;&lt; Library &gt;&gt;</text><text y="4">Library57</text></g>
<g id="Library55" transform="translate(938,1142)"><use href="#pk"/><text y="-16">&lt;&lt; Library &gt;&gt;</text><text y="4">Library55</text></g>
<g id="Library59" transform="translate(1008,1142)"><use href="#pk"/><text y="-16">&lt;&lt; Library &gt;&gt;</text><text y="4">Library59</text></g>
<g id="Library260" transform="translate(559,1155)"><use href="#pk"/><text y="-16">&lt;&lt; Library &gt;&gt;</text><text y="4">Library260</text></g>
<g id="Library357" transform="translate(846,1233)"><use href="#pk"/><text y="-16">&lt;&lt; Library &gt;&gt;</text><text y="4">Library357</text></g>
<g id="Library274" transform="translate(932,1266)"><use href="#pk"/><text y="-16">&lt;&lt; Library &gt;&gt;</text><text y="4">Library274</text></g>
<g id="Library116" transform="translate(616,1237)"><use href="#pk"/><text y="-16">&lt;&lt; Library &gt;&gt;</text><text y="4">Library116</text></g>
<g id="Library221" transform="translate(672,1312)"><use href="#pk"/><text y="-16">&lt;&lt; Library &gt;&gt;</text><text y="4">Library221</text></g>
<g id="Library82" transform="translate(712,1337)"><use href="#pk"/><text y="-16">&lt;&lt; Library &gt;&gt;</text><text y="4">Library82</text></g>
<g id="Library353" transform="translate(587,1353)"><use href="#pk"/><text y="-16">&lt;&lt; Library &gt;&gt;</text><text y="4">Library353</text></g>
<g id="Library327" transform="translate(841,1354)"><use href="#pk"/><text y="-16">&lt;&lt; Library &gt;&gt;</text><text y="4">Library327</text></g>
<g id="Library121" transform="translate(850,1416)"><use href="#pk"/><text y="-16">&lt;&lt; Library &gt;&gt;</text><text y="4">Library121</text></g>
<g id="Library326" transform="translate(943,1453)"><use href="#pk"/><text y="-16">&lt;&lt; Library &gt;&gt;</text><text y="4">Library326</text></g>
<g id="Library243" transform="translate(619,1424)"><use href="#pk"/><text y="-16">&lt;&lt; Library &gt;&gt;</text><text y="4">Library243</text></g>
<g id="Library171" transform="translate(694,1450)"><use href="#pk"/><text y="-16">&lt;&lt; Library &gt;&gt;</text><text y="4">Library171</text></g>
<g id="Library250" transform="translate(601,1503)"><use href="#pk"/><text y="-16">&lt;&lt; Library &gt;&gt;</text><text y="4">Library250</text></g>
<g id="Library323" transform="translate(803,1502)"><use href="#pk"/><text y="-16">&lt;&lt; Library &gt;&gt;</text><text y="4">Library323</text></g>
<g id="Library134" transform="translate(957,1528)"><use href="#pk"/><text y="-16">&lt;&lt; Library &gt;&gt;</text><text y="4">Library134</text></g>
<g id="Library29" transform="translate(1053,1538)"><use href="#pk"/><text y="-16">&lt;&lt; Library &gt;&gt;</text><text y="4">Library29</text></g>
<g id="Library175" transform="translate(308,1621)"><use href="#pk"/><text y="-16">&lt;&lt; Library &gt;&gt;</text><text y="4">Library175</text></g>
<g id="Library298" transform="translate(257,1570)"><use href="#pk"/><text y="-16">&lt;&lt; Library &gt;&gt;</text><text y="4">Library298</text></g>
<g id="Library286" transform="translate(444,1655)"><use href="#pk"/><text y="-16">&lt;&lt; Library &gt;&gt;</text><text y="4">Library286</text></g>
<g id="Library167" transform="translate(523,1661)"><use href="#pk"/><text y="-16">&lt;&lt; Library &gt;&gt;</text><text y="4">Library167</text></g>
<g id="Library117" transform="translate(452,1716)"><use href="#pk"/><text y="-16">&lt;&lt; Library &gt;&gt;</text><text y="4">Library117</text></g>
<g id="Library278" transform="translate(527,1724)"><use href="#pk"/><text y="-16">&lt;&lt; Library &gt;&gt;</text><text y="4">Library278</text></g>
<g id="Library203" transform="translate(60,1775)"><use href="#pk"/><text y="-16">&lt;&lt; Library &gt;&gt;</text><text y="4">Library203</text></g>
<g id="Library244" transform="translate(128,1816)"><use href="#pk"/><text y="-16">&lt;&lt; Library &gt;&gt;</text><text y="4">Library244</text></g>
<g id="Library176" transform="translate(275,1787)"><use href="#pk"/><text y="-16">&lt;&lt; Library &gt;&gt;</text><text y="4">Library176</text></g>
<g id="Library284" transform="translate(120,1896)"><use href="#pk"/><text y="-16">&lt;&lt; Library &gt;&gt;</text><text y="4">Library284</text></g>
<g id="Library289" transform="translate(187,1971)"><use href="#pk"/><text y="-16">&lt;&lt; Library &gt;&gt;</text><text y="4">Library289</text></g>
<g id="Library185" transform="translate(81,2063)"><use href="#pk"/><text y="-16">&lt;&lt; Library &gt;&gt;</text><text y="4">Library185</text></g>
<g id="Library295" transform="translate(1029,1589)"><use href="#pk"/><text y="-16">&lt;&lt; Library &gt;&gt;</text><text y="4">Library295</text></g>
<g id="Library332" transform="translate(608,1603)"><use href="#pk"/><text y="-16">&lt;&lt; Library &gt;&gt;</text><text y="4">Library332</text></g>
<g id="Library261" transform="translate(834,1631)"><use href="#pk"/><text y="-16">&lt;&lt; Library &gt;&gt;</text><text y="4">Library261</text></g>
<g id="Library181" transform="translate(1027,1665)"><use href="#pk"/><text y="-16">&lt;&lt; Library &gt;&gt;</text><text y="4">Library181</text></g>
<g id="Library200" transform="translate(601,1653)"><use href="#pk"/><text y="-16">&lt;&lt; Library &gt;&gt;</text><text y="4">Library200</text></g>
<g id="Library285" transform="translate(706,1733)"><use href="#pk"/><text y="-16">&lt;&lt; Library &gt;&gt;</text><text y="4">Library285</text></g>
<g id="Library281" transform="translate(614,1738)"><use href="#pk"/><text y="-16">&lt;&lt; Library &gt;&gt;</text><text y="4">Library281</text></g>
<g id="Library350" transform="translate(1038,1758)"><use href="#pk"/><text y="-16">&lt;&lt; Library &gt;&gt;</text><text y="4">Library350</text></g>
<g id="Library197" transform="translate(666,1774)"><use href="#pk"/><text y="-16">&lt;&lt; Library &gt;&gt;</text><text y="4">Library197</text></g>
<g id="Library339" transform="translate(587,1788)"><use href="#pk"/><text y="-16">&lt;&lt; Library &gt;&gt;</text><text y="4">Library339</text></g>
<g id="Library322" transform="translate(568,1837)"><use href="#pk"/><text y="-16">&lt;&lt; Library &gt;&gt;</text><text y="4">Library322</text></g>
<g id="Library248" transform="translate(540,1862)"><use href="#pk"/><text y="-16">&lt;&lt; Library &gt;&gt;</text><text y="4">Library248</text></g>
<g id="Library299" transform="translate(678,1881)"><use href="#pk"/><text y="-16">&lt;&lt; Library &gt;&gt;</text><text y="4">Library299</text></g>
<g id="Library102" transform="translate(945,1909)"><use href="#pk"/><text y="-16">&lt;&lt; Library &gt;&gt;</text><text y="4">Library102</text></g>
<g id="Library188" transform="translate(680,1942)"><use href="#pk"/><text y="-16">&lt;&lt; Library &gt;&gt;</text><text y="4">Library188</text></g>
<g id="Library335" transform="translate(1025,1964)"><use href="#pk"/><text y="-16">&lt;&lt; Library &gt;&gt;</text><text y="4">Library335</text></g>
<g id="Library345" transform="translate(964,2039)"><use href="#pk"/><text y="-16">&lt;&lt; Library &gt;&gt;</text><text y="4">Library345</text></g>
<g id="Library211" transform="translate(606,2027)"><use href="#pk"/><text y="-16">&lt;&lt; Library &gt;&gt;</text><text y="4">Library211</text></g>
<g id="Library359" transform="translate(335,508)"><use href="#pk"/><text y="-16">&lt;&lt; Library &gt;&gt;</text><text y="4">Library359</text></g>
<g id="Library214" transform="translate(148,363)"><use href="#pk"/><text y="-16">&lt;&lt; Library &gt;&gt;</text><text y="4">Library214</text></g>
<g id="Library287" transform="translate(679,436)"><use href="#pk"/><text y="-16">&lt;&lt; Library &gt;&gt;</text><text y="4">Library287</text></g>
<g id="Library304" transform="translate(480,551)"><use href="#pk"/><text y="-16">&lt;&lt; Library &gt;&gt;</text><text y="4">Library304</text></g>
<g id="Library153" transform="translate(524,606)"><use href="#pk"/><text y="-16">&lt;&lt; Library &gt;&gt;</text><text y="4">Library153</text></g>
<g id="Library213" transform="translate(374,768)"><use href="#pk"/><text y="-16">&lt;&lt; Library &gt;&gt;</text><text y="4">Library213</text></g>
<g id="Library238" transform="translate(301,905)"><use href="#pk"/><text y="-16">&lt;&lt; Library &gt;&gt;</text><text y="4">Library238</text></g>
<g id="Library293" transform="translate(244,866)"><use href="#pk"/><text y="-16">&lt;&lt; Library &gt;&gt;</text><text y="4">Library293</text></g>
<g id="Library356" transform="translate(336,844)"><use href="#pk"/><text y="-16">&lt;&lt; Library &gt;&gt;</text><text y="4">Library356</text></g>
<g id="Library67" transform="translate(521,1033)"><use href="#pk"/><text y="-16">&lt;&lt; Library &gt;&gt;</text><text y="4">Library67</text></g>
<g id="Library202" transform="translate(520,1001)"><use href="#pk"/><text y="-16">&lt;&lt; Library &gt;&gt;</text><text y="4">Library202</text></g>
<g id="Library288" transform="translate(603,1033)"><use href="#pk"/><text y="-16">&lt;&lt; Library &gt;&gt;</text><text y="4">Library288</text></g>
<g id="Library273" transform="translate(738,1080)"><use href="#pk"/><text y="-16">&lt;&lt; Library &gt;&gt;</text><text y="4">Library273</text></g>
<g id="Library190" transform="translate(707,1147)"><use href="#pk"/><text y="-16">&lt;&lt; Library &gt;&gt;</text><text y="4">Library190</text></g>
<g id="Library321" transform="translate(674,1059)"><use href="#pk"/><text y="-16">&lt;&lt; Library &gt;&gt;</text><text y="4">Library321</text></g>
<g id="Library320" transform="translate(816,1093)"><use href="#pk"/><text y="-16">&lt;&lt; Library &gt;&gt;</text><text y="4">Library320</text></g>
<g id="Library111" transform="translate(973,1093)"><use href="#pk"/><text y="-16">&lt;&lt; Library &gt;&gt;</text><text y="4">Library111</text></g>
<g id="Library331" transform="translate(798,1042)"><use href="#pk"/><text y="-16">&lt;&lt; Library &gt;&gt;</text><text y="4">Library331</text></g>
<g id="Library259" transform="translate(883,989)"><use href="#pk"/><text y="-16">&lt;&lt; Library &gt;&gt;</text><text y="4">Library259</text></g>
<g id="Library212" transform="translate(128,1193)"><use href="#pk"/><text y="-16">&lt;&lt; Library &gt;&gt;</text><text y="4">Library212</text></g>
<g id="Library360" transform="translate(122,1167)"><use href="#pk"/><text y="-16">&lt;&lt; Library &gt;&gt;</text><text y="4">Library360</text></g>
<g id="Library118" transform="translate(98,1382)"><use href="#pk"/><text y="-16">&lt;&lt; Library &gt;&gt;</text><text y="4">Library118</text></g>
<g id="Library341" transform="translate(80,1352)"><use href="#pk"/><text y="-16">&lt;&lt; Library &gt;&gt;</text><text y="4">Library341</text></g>
<g id="Library101" transform="translate(161,1692)"><use href="#pk"/><text y="-16">&lt;&lt; Library &gt;&gt;</text><text y="4">Library101</text></g>
<g id="Library132" transform="translate(159,1651)"><use href="#pk"/><text y="-16">&lt;&lt; Library &gt;&gt;</text><text y="4">Library132</text></g>
<g id="Library195" transform="translate(145,1607)"><use href="#pk"/><text y="-16">&lt;&lt; Library &gt;&gt;</text><text y="4">Library195</text></g>
<g id="Library226" transform="translate(350,1504)"><use href="#pk"/><text y="-16">&lt;&lt; Library &gt;&gt;</text><text y="4">Library226</text></g>
<g id="Library258" transform="translate(302,1493)"><use href="#pk"/><text y="-16">&lt;&lt; Library &gt;&gt;</text><text y="4">Library258</text></g>
<g id="Library296" transform="translate(445,1503)"><use href="#pk"/><text y="-16">&lt;&lt; Library &gt;&gt;</text><text y="4">Library296</text></g>
<g id="Library103" transform="translate(465,2062)"><use href="#pk"/><text y="-16">&lt;&lt; Library &gt;&gt;</text><text y="4">Library103</text></g>
<g id="Library330" transform="translate(367,1997)"><use href="#pk"/><text y="-16">&lt;&lt; Library &gt;&gt;</text><text y="4">Library330</text></g>
<g id="Library336" transform="translate(363,1951)"><use href="#pk"/><text y="-16">&lt;&lt; Library &gt;&gt;</text><text y="4">Library336</text></g>
<g id="Library319" transform="translate(415,1988)"><use href="#pk"/><text y="-16">&lt;&lt; Library &gt;&gt;</text><text y="4">Library319</text></g>
<g id="Library232" transform="translate(483,2022)"><use href="#pk"/><text y="-16">&lt;&lt; Library &gt;&gt;</text><text y="4">Library232</text></g>
<g id="Library347" transform="translate(315,1928)"><use href="#pk"/><text y="-16">&lt;&lt; Library &gt;&gt;</text><text y="4">Library347</text></g>
<g id="Library275" transform="translate(356,1869)"><use href="#pk"/><text y="-16">&lt;&lt; Library &gt;&gt;</text><text y="4">Library275</text></g>
<g id="Library325" transform="translate(757,1816)"><use href="#pk"/><text y="-16">&lt;&lt; Library &gt;&gt;</text><text y="4">Library325</text></g>
<g id="Library349" transform="translate(825,1812)"><use href="#pk"/><text y="-16">&lt;&lt; Library &gt;&gt;</text><text y="4">Library349</text></g>
<g id="Library308" transform="translate(740,1704)"><use href="#pk"/><text y="-16">&lt;&lt; Library &gt;&gt;</text><text y="4">Library308</text></g>
<g id="Library361" transform="translate(859,1717)"><use href="#pk"/><text y="-16">&lt;&lt; Library &gt;&gt;</text><text y="4">Library361</text></g>
<g id="Library255" transform="translate(924,1776)"><use href="#pk"/><text y="-16">&lt;&lt; Library &gt;&gt;</text><text y="4">Library255</text></g>
<g id="Library340" transform="translate(850,1951)"><use href="#pk"/><text y="-16">&lt;&lt; Library &gt;&gt;</text><text y="4">Library340</text></g>
<g id="Library342" transform="translate(836,1913)"><use href="#pk"/><text y="-16">&lt;&lt; Library &gt;&gt;</text><text y="4">Library342</text></g>
<g id="Library47" transform="translate(759,2054)"><use href="#pk"/><text y="-16">&lt;&lt; Library &gt;&gt;</text><text y="4">Library47</text></g>
<g id="Library316" transform="translate(813,2046)"><use href="#pk"/><text y="-16">&lt;&lt; Library &gt;&gt;</text><text y="4">Library316</text></g>
<g id="Library201" transform="translate(892,2052)"><use href="#pk"/><text y="-16">&lt;&lt; Library &gt;&gt;</text><text y="4">Library201</text></g>
<g id="Library334" transform="translate(876,2012)"><use href="#pk"/><text y="-16">&lt;&lt; Library &gt;&gt;</text><text y="4">Library334</text></g>
<g id="Library364" transform="translate(859,83)"><use href="#pk"/><text y="-16">&lt;&lt; Library &gt;&gt;</text><text y="4">Library364</text></g>
<g id="Library280" transform="translate(570,284)"><use href="#pk"/><text y="-16">&lt;&lt; Library &gt;&gt;</text><text y="4">Library280</text></g>
<g id="Library84" transform="translate(1026,753)"><use href="#pk"/><text y="-16">&lt;&lt; Library &gt;&gt;</text><text y="4">Library84</text></g>
<g id="Library194" transform="translate(953,694)"><use href="#pk"/><text y="-16">&lt;&lt; Library &gt;&gt;</text><text y="4">Library194</text></g>
<g id="Library266" transform="translate(986,655)"><use href="#pk"/><text y="-16">&lt;&lt; Library &gt;&gt;</text><text y="4">Library266</text></g>
<g id="Library256" transform="translate(289,709)"><use href="#pk"/><text y="-16">&lt;&lt; Library &gt;&gt;</text><text y="4">Library256</text></g>
<g id="Library306" transform="translate(91,1019)"><use href="#pk"/><text y="-16">&lt;&lt; Library &gt;&gt;</text><text y="4">Library306</text></g>
<g id="Library233" transform="translate(161,1041)"><use href="#pk"/><text y="-16">&lt;&lt; Library &gt;&gt;</text><text y="4">Library233</text></g>
<g id="Library267" transform="translate(153,1012)"><use href="#pk"/><text y="-16">&lt;&lt; Library &gt;&gt;</text><text y="4">Library267</text></g>
</g>
</svg>
